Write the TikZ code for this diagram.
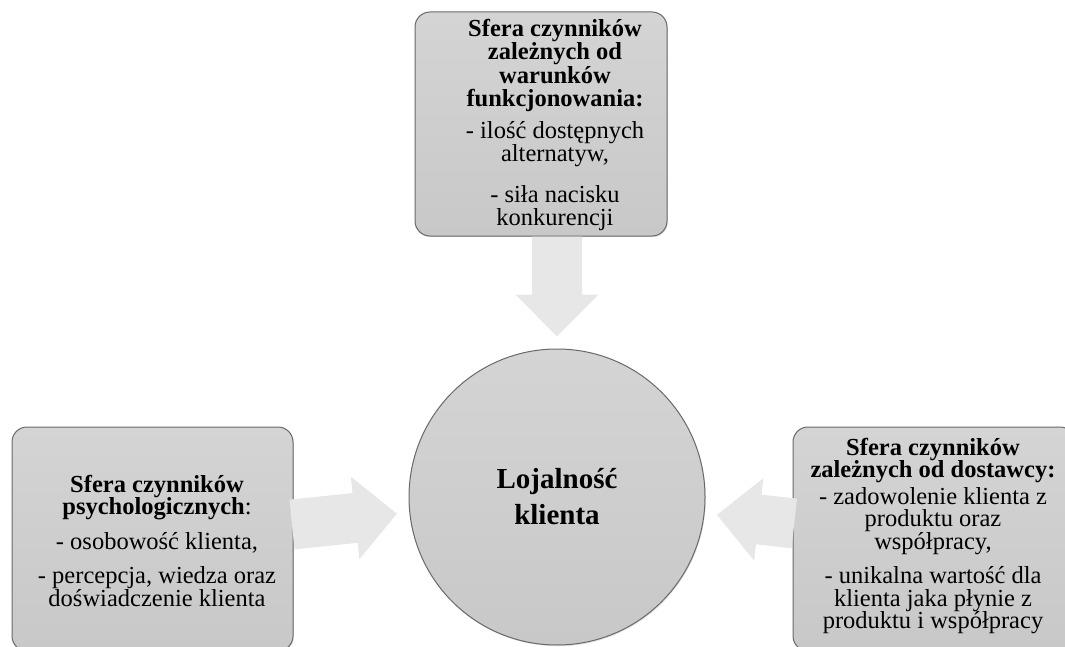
\documentclass[tikz,border=0pt]{standalone}
\usepackage{fontspec}
\setmainfont{Liberation Serif}
\usetikzlibrary{calc,shadows}

\definecolor{boxtop}{RGB}{212,212,212}
\definecolor{boxbot}{RGB}{200,200,200}
\definecolor{rimgray}{RGB}{105,105,105}
\definecolor{flowgray}{RGB}{231,231,231}

\tikzset{
  sphere/.style={draw=rimgray, line width=1pt, rounded corners=15pt,
    top color=boxtop, bottom color=boxbot,
    drop shadow={opacity=0.25, shadow xshift=0.8pt, shadow yshift=-1.2pt}},
  corecircle/.style={circle, draw=rimgray, line width=1pt,
    top color=boxtop, bottom color=boxbot, minimum size=296pt, inner sep=0pt,
    align=center, font=\fontsize{29}{36}\selectfont\bfseries,
    drop shadow={opacity=0.25, shadow xshift=0.8pt, shadow yshift=-1.2pt}},
  spheretext/.style={align=center, inner sep=0pt, font=\fontsize{24.5}{22.5}\selectfont},
  flow/.style={fill=flowgray, draw=none}
}

% block arrow from tail centre #1 to tip #2
\newcommand{\blockarrow}[2]{%
  \path ($(#2)!42pt!(#1)$) coordinate (hb);
  \fill[flow] ($(#1)!25pt!90:(#2)$) -- ($(hb)!25pt!90:(#2)$)
    -- ($(hb)!41.5pt!90:(#2)$) -- (#2)
    -- ($(hb)!41.5pt!-90:(#2)$) -- ($(hb)!25pt!-90:(#2)$)
    -- ($(#1)!25pt!-90:(#2)$) -- cycle;
}

\begin{document}
\begin{tikzpicture}[x=1pt,y=-1pt]
\clip (0,0) rectangle (1065,647);

% central circle and the three spheres
\node[corecircle] (core) at (557,497) {Lojalność\\klienta};
\node[sphere, minimum width=252pt, minimum height=224pt] (top) at (541,124) {};
\node[sphere, minimum width=281pt, minimum height=224pt] (left) at (152.5,539) {};
\node[sphere, minimum width=282pt, minimum height=224pt] (right) at (934,539) {};

% arrow end points
\coordinate (topTail) at (top.south -| core.north);
\coordinate (topTip) at ($(core.north)+(0,-12)$);
\coordinate (leftTail) at ($(left.center)!(left.east)!(core.center)$);
\coordinate (leftTip) at ($(core.center)!161pt!(left.center)$);
\coordinate (rightTail) at ($(right.center)!(right.west)!(core.center)$);
\coordinate (rightTip) at ($(core.center)!161pt!(right.center)$);

\blockarrow{topTail}{topTip}
\blockarrow{leftTail}{leftTip}
\blockarrow{rightTail}{rightTip}

% texts of the spheres
\node[spheretext, font=\fontsize{24.5}{23.5}\selectfont] (topText) at (555,125)
  {\textbf{Sfera czynników}\\ \textbf{zależnych od}\\ \textbf{warunków}\\
   \textbf{funkcjonowania:}\\[8pt] - ilość dostępnych\\ alternatyw,\\[17pt]
   - siła nacisku\\ konkurencji};
\node[spheretext] (leftText) at (157,540.5)
  {\textbf{Sfera czynników}\\ \textbf{psychologicznych}:\\[12pt]
   - osobowość klienta,\\[12pt] - percepcja, wiedza oraz\\ doświadczenie klienta};
\node[spheretext] (rightText) at (933,536)
  {\textbf{Sfera czynników}\\ \textbf{zależnych od dostawcy:}\\[4pt]
   - zadowolenie klienta z\\ produktu oraz\\ współpracy,\\[12pt]
   - unikalna wartość dla\\ klienta jaka płynie z\\ produktu i współpracy};
\end{tikzpicture}
\end{document}
